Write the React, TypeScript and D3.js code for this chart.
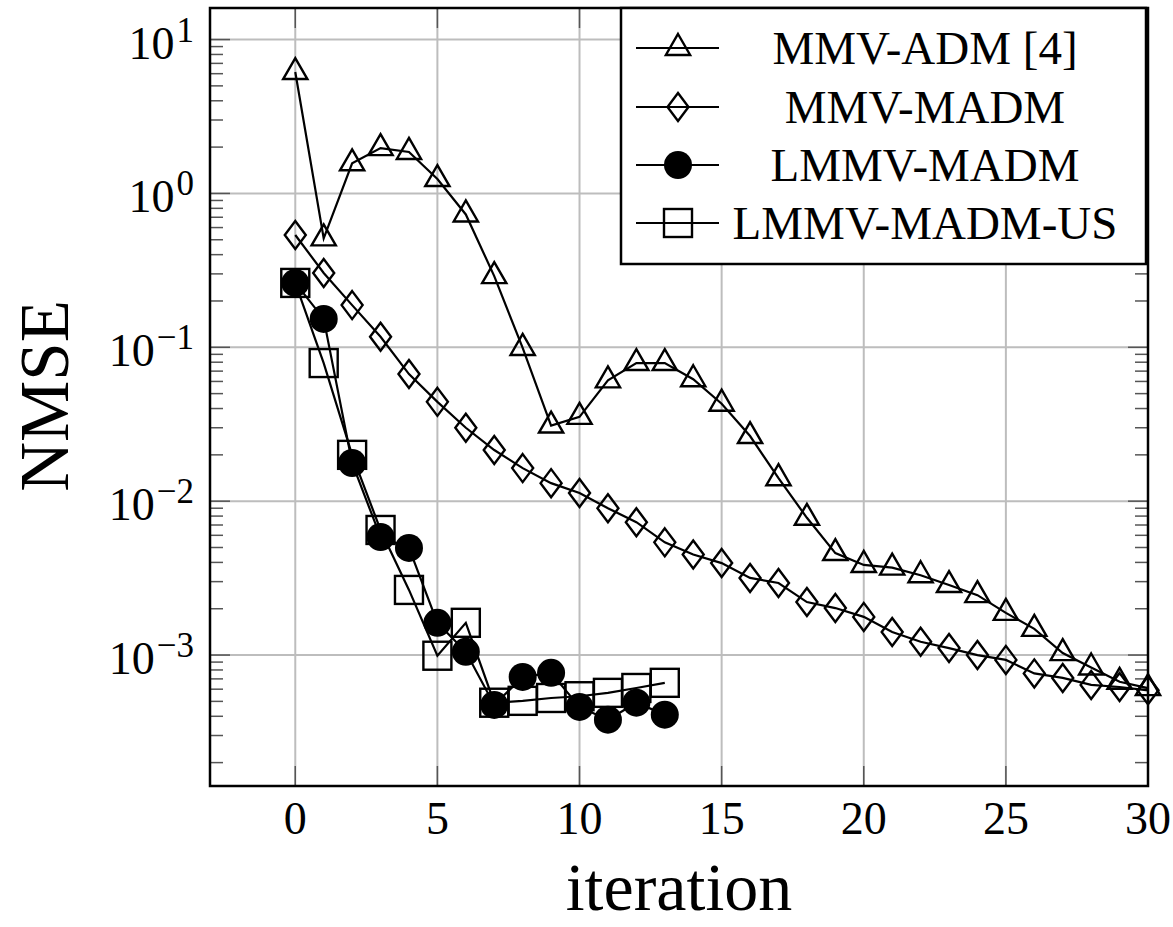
import React, { useEffect, useRef } from 'react';
import * as d3 from 'd3';

// iteration index for every series
const iterations = [0, 1, 2, 3, 4, 5, 6, 7, 8, 9, 10, 11, 12, 13, 14, 15, 16, 17, 18, 19, 20, 21, 22, 23, 24, 25, 26, 27, 28, 29, 30];

const mmvAdm = [6.15, 0.51, 1.57, 1.97, 1.86, 1.24, 0.73, 0.29, 0.099, 0.031, 0.0353, 0.061, 0.079, 0.079, 0.062, 0.043, 0.0265, 0.0141, 0.0078, 0.0046, 0.00385, 0.0037, 0.0033, 0.00285, 0.00245, 0.00188, 0.00148, 0.00103, 0.00083, 0.00067, 0.00061];
const mmvMadm = [0.537, 0.304, 0.188, 0.117, 0.067, 0.0442, 0.030, 0.0215, 0.0164, 0.0131, 0.0113, 0.0090, 0.0073, 0.0054, 0.0045, 0.00396, 0.00317, 0.00294, 0.00221, 0.00202, 0.00177, 0.00141, 0.00122, 0.00111, 0.0010, 0.00093, 0.00076, 0.00071, 0.00064, 0.00062, 0.00059];
const lmmvMadm = [0.262, 0.153, 0.0177, 0.00585, 0.00497, 0.00162, 0.00105, 0.000474, 0.000721, 0.000766, 0.00046, 0.00038, 0.00049, 0.00041];
const lmmvMadmUs = [0.262, 0.079, 0.020, 0.0065, 0.00265, 0.00099, 0.00162, 0.00049, 0.000504, 0.000526, 0.00054, 0.000568, 0.000611, 0.00066];

const seriesNames = ['MMV-ADM [4]', 'MMV-MADM', 'LMMV-MADM', 'LMMV-MADM-US'];
const seriesMarks = ['triangle', 'diamond', 'circle', 'square'];
const xTicks = [0, 5, 10, 15, 20, 25, 30];
const yTicks = [1e1, 1e0, 1e-1, 1e-2, 1e-3];
const yTickExp = ['1', '0', '\u22121', '\u22122', '\u22123'];

const W = 1173;
const H = 927;
const FONT = "'Liberation Serif', 'Times New Roman', serif";

const drawMark = (g, kind, x, y) => {
  if (kind === 'circle') {
    g.append('circle').attr('cx', x).attr('cy', y).attr('r', 14).attr('fill', 'black');
  } else if (kind === 'square') {
    g.append('rect').attr('x', x - 14).attr('y', y - 14).attr('width', 28).attr('height', 28)
      .attr('fill', 'none').attr('stroke', 'black').attr('stroke-width', 2.4);
  } else if (kind === 'triangle') {
    const r = 14;
    g.append('path')
      .attr('d', `M${x},${y - r}L${x + 0.866 * r},${y + 0.5 * r}L${x - 0.866 * r},${y + 0.5 * r}Z`)
      .attr('fill', 'none').attr('stroke', 'black').attr('stroke-width', 2.4);
  } else {
    g.append('path')
      .attr('d', `M${x},${y - 14}L${x + 10.5},${y}L${x},${y + 14}L${x - 10.5},${y}Z`)
      .attr('fill', 'none').attr('stroke', 'black').attr('stroke-width', 2.4);
  }
};

const App = () => {
  const ref = useRef(null);

  useEffect(() => {
    document.body.style.margin = '0';
    const svg = d3.select(ref.current);
    svg.selectAll('*').remove();

    const left = 210, right = 1148, top = 8, bottom = 786;
    const x = d3.scaleLinear().domain([-3, 30]).range([left, right]);
    const y = d3.scaleLog().domain([10 ** -3.851, 10 ** 1.205]).range([bottom, top]);

    svg.append('rect').attr('width', W).attr('height', H).attr('fill', 'white');

    // grid
    const grid = svg.append('g').attr('stroke', '#bdbdbd').attr('stroke-width', 2);
    xTicks.forEach(t => grid.append('line').attr('x1', x(t)).attr('x2', x(t)).attr('y1', top).attr('y2', bottom));
    yTicks.forEach(t => grid.append('line').attr('x1', left).attr('x2', right).attr('y1', y(t)).attr('y2', y(t)));

    // ticks
    const ticks = svg.append('g').attr('stroke', '#555').attr('stroke-width', 1.5);
    xTicks.forEach(t => {
      ticks.append('line').attr('x1', x(t)).attr('x2', x(t)).attr('y1', bottom).attr('y2', bottom - 20);
      ticks.append('line').attr('x1', x(t)).attr('x2', x(t)).attr('y1', top).attr('y2', top + 20);
    });
    const [d0, d1] = y.domain();
    y.ticks(40).filter(v => v >= d0 && v <= d1).forEach(v => {
      const major = yTicks.some(t => Math.abs(Math.log10(t) - Math.log10(v)) < 1e-6);
      const len = major ? 20 : 13;
      ticks.append('line').attr('x1', left).attr('x2', left + len).attr('y1', y(v)).attr('y2', y(v));
      ticks.append('line').attr('x1', right).attr('x2', right - len).attr('y1', y(v)).attr('y2', y(v));
    });

    // series
    const all = [mmvAdm, mmvMadm, lmmvMadm, lmmvMadmUs];
    const line = d3.line().x(d => x(d[0])).y(d => y(d[1]));
    all.forEach((vals, i) => {
      const pts = vals.map((v, j) => [iterations[j], v]);
      const g = svg.append('g');
      g.append('path').attr('d', line(pts)).attr('fill', 'none').attr('stroke', 'black').attr('stroke-width', 2.2);
      pts.forEach(p => drawMark(g, seriesMarks[i], x(p[0]), y(p[1])));
    });

    // frame
    svg.append('rect').attr('x', left).attr('y', top).attr('width', right - left).attr('height', bottom - top)
      .attr('fill', 'none').attr('stroke', 'black').attr('stroke-width', 2.5);

    // tick labels
    xTicks.forEach(t => {
      svg.append('text').attr('x', x(t)).attr('y', 834).attr('text-anchor', 'middle')
        .attr('font-family', FONT).attr('font-size', 46).text(t);
    });
    yTicks.forEach((t, i) => {
      const txt = svg.append('text').attr('x', 194).attr('y', y(t) + 19).attr('text-anchor', 'end')
        .attr('font-family', FONT).attr('font-size', 46);
      txt.append('tspan').text('10');
      txt.append('tspan').attr('dx', 2).attr('dy', -17).attr('font-size', 35).text(yTickExp[i]);
    });

    // axis labels
    svg.append('text').attr('x', 679).attr('y', 910).attr('text-anchor', 'middle')
      .attr('font-family', FONT).attr('font-size', 68).text('iteration');
    svg.append('text').attr('transform', 'translate(68,396) rotate(-90)').attr('text-anchor', 'middle')
      .attr('font-family', FONT).attr('font-size', 69).text('NMSE');

    // legend
    const lg = svg.append('g');
    lg.append('rect').attr('x', 621).attr('y', top).attr('width', 1146 - 621).attr('height', 264 - top)
      .attr('fill', 'white').attr('stroke', 'black').attr('stroke-width', 2.5);
    const rows = [48, 107, 165, 223];
    seriesNames.forEach((name, i) => {
      lg.append('line').attr('x1', 636).attr('x2', 719).attr('y1', rows[i]).attr('y2', rows[i])
        .attr('stroke', 'black').attr('stroke-width', 2.2);
      drawMark(lg, seriesMarks[i], 678, rows[i]);
      lg.append('text').attr('x', 925).attr('y', rows[i] + 16).attr('text-anchor', 'middle')
        .attr('font-family', FONT).attr('font-size', 47).text(name);
    });
  }, []);

  return <svg ref={ref} width={W} height={H} style={{ display: 'block' }}></svg>;
};

export default App;
